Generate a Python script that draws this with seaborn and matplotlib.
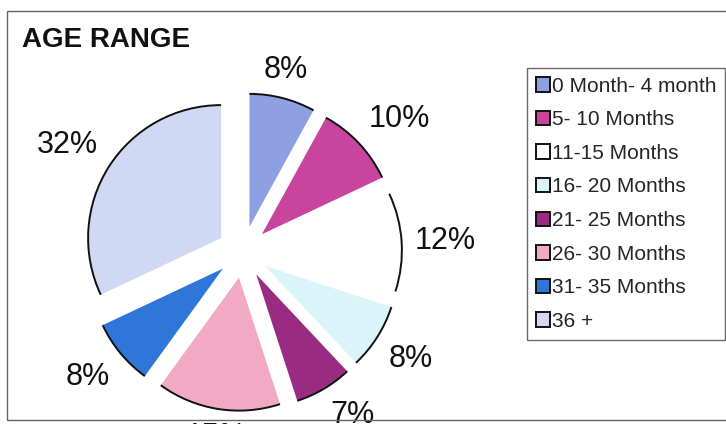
import matplotlib
matplotlib.use("Agg")
import numpy as np
import matplotlib.pyplot as plt
import seaborn as sns
from matplotlib.patches import Arc, Rectangle, Patch

sns.set_theme(style="white")
plt.rcParams['font.family'] = ['Liberation Sans', 'DejaVu Sans']

title = "AGE RANGE"
categories = ["0 Month- 4 month", "5- 10 Months", "11-15 Months", "16- 20 Months",
              "21- 25 Months", "26- 30 Months", "31- 35 Months", "36 +"]
values = [8, 10, 12, 8, 7, 15, 8, 32]
colors = ["#8E9FE2", "#C9449C", "#FFFFFF", "#D9F5FA",
          "#992C82", "#F2A9C3", "#2E77D9", "#D0D9F4"]

W, H = 726, 424
fig = plt.figure(figsize=(W / 100, H / 100), dpi=100)
fig.patch.set_facecolor("white")

# outer chart frame
fig.add_artist(Rectangle((7 / W, 1 - 420 / H), (W + 10 - 7) / W, (420 - 11) / H,
                         transform=fig.transFigure, fill=False,
                         edgecolor="#666666", linewidth=1.0))

fig.text(22 / W, 1 - 47 / H, title, fontsize=20, fontweight="bold",
         color="#111111", ha="left", va="baseline")

# pie axes: 1 data unit = 133 px, centre at (243, 252)
R = 133.0
cx, cy = 243.0, 252.0
half = 200.0
ax = fig.add_axes([(cx - half) / W, (H - cy - half) / H, 2 * half / W, 2 * half / H])
ax.set_facecolor("none")
wedges, texts, autotexts = ax.pie(
    values, colors=colors, startangle=90, counterclock=False,
    explode=[0.195] * len(values), autopct="%.0f%%", pctdistance=1.2,
    wedgeprops=dict(linewidth=0), textprops=dict(fontsize=22, color="#111111"))
gap = 0.10
for w, t in zip(wedges, autotexts):
    ang = np.deg2rad((w.theta1 + w.theta2) / 2)
    dx, dy = np.cos(ang), np.sin(ang)
    t.set_position((w.center[0] + (w.r + gap) * dx, w.center[1] + (w.r + gap) * dy))
    t.set_ha("left" if dx > 0.3 else ("right" if dx < -0.3 else "center"))
    t.set_va("bottom" if dy > 0.2 else ("top" if dy < -0.2 else "center"))
    t.set_clip_on(False)
    ax.add_patch(Arc(w.center, 2 * w.r, 2 * w.r, theta1=w.theta1, theta2=w.theta2,
                     color="#111111", linewidth=1.4))
ax.set_xlim(-half / R, half / R)
ax.set_ylim(-half / R, half / R)
ax.set_aspect("equal")
ax.axis("off")

handles = [Patch(facecolor=c, edgecolor="#111111", linewidth=1.4) for c in colors]
leg = fig.legend(handles, categories, loc="upper left",
                 bbox_to_anchor=(527 / W, 1 - 68 / H), fontsize=15,
                 frameon=True, fancybox=False, handlelength=0.68, handleheight=0.68,
                 handletextpad=0.1, labelspacing=0.7, borderpad=0.42,
                 borderaxespad=0.0)
leg.get_frame().set_edgecolor("#444444")
leg.get_frame().set_linewidth(1.0)

fig.savefig("out.png", dpi=100, facecolor="white")
